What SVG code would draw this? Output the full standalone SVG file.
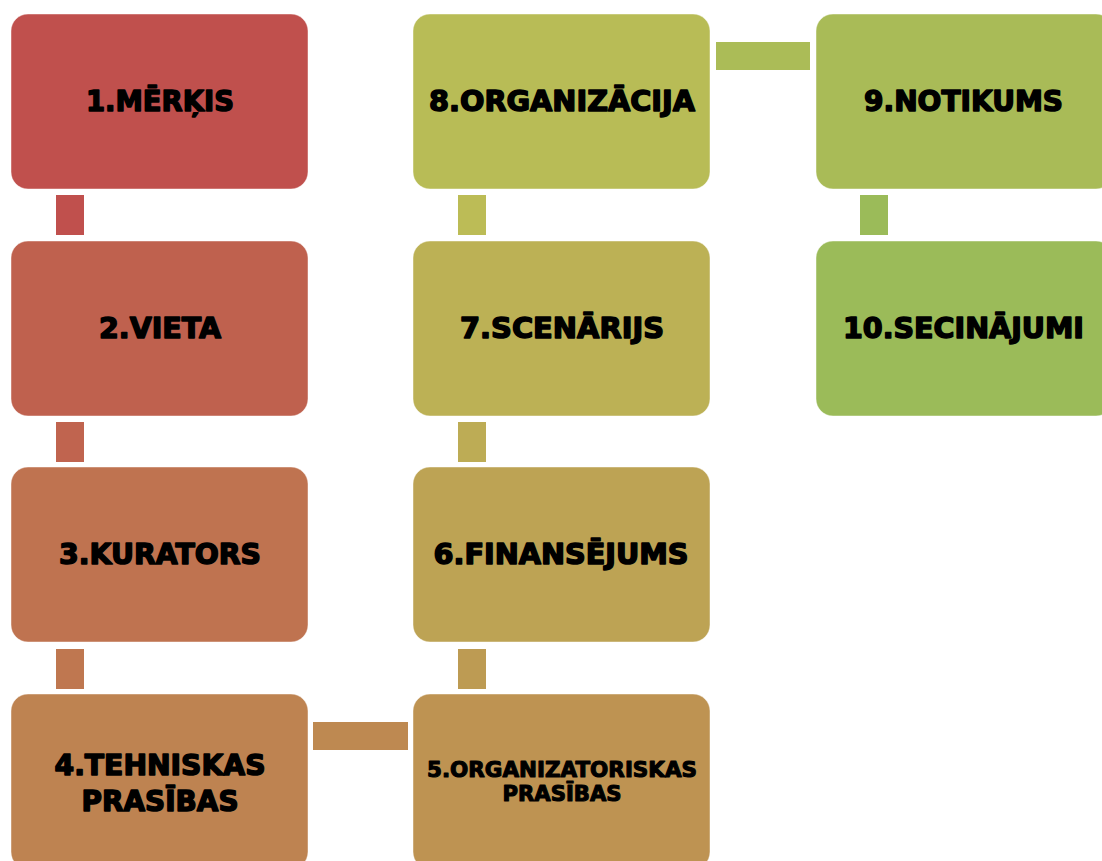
<svg xmlns="http://www.w3.org/2000/svg" width="1102" height="861" viewBox="0 0 1102 861">
<style>
.box{stroke:#ffffff;stroke-opacity:0.45;stroke-width:1}
.lbl{font-family:"DejaVu Sans","Liberation Sans",sans-serif;font-weight:bold;font-size:28px;fill:#000;stroke:#000;stroke-width:1.5;stroke-linejoin:round;text-anchor:middle}
.sm{font-size:21px;stroke-width:1.1}
</style>
<rect width="1102" height="861" fill="#ffffff"/>
<g id="connectors">
<rect x="56" y="195" width="28" height="40" fill="#C0504D"/>
<rect x="56" y="422" width="28" height="40" fill="#C0644F"/>
<rect x="56" y="649" width="28" height="40" fill="#BF7750"/>
<rect x="313" y="722" width="95" height="28" fill="#BE8951"/>
<rect x="458" y="649" width="28" height="40" fill="#BD9B53"/>
<rect x="458" y="422" width="28" height="40" fill="#BDAC55"/>
<rect x="458" y="195" width="28" height="40" fill="#BCBC56"/>
<rect x="716" y="42" width="94" height="28" fill="#ABBC57"/>
<rect x="860" y="195" width="28" height="40" fill="#9BBB59"/>
</g>
<g id="node1"><rect class="box" x="11" y="14" width="297" height="175" rx="17" fill="#C0504D"/><text class="lbl" x="160" y="111" textLength="148" lengthAdjust="spacingAndGlyphs">1.MĒRĶIS</text></g>
<g id="node2"><rect class="box" x="11" y="241" width="297" height="175" rx="17" fill="#BF614E"/><text class="lbl" x="160" y="338" textLength="122" lengthAdjust="spacingAndGlyphs">2.VIETA</text></g>
<g id="node3"><rect class="box" x="11" y="467" width="297" height="175" rx="17" fill="#BF7350"/><text class="lbl" x="160" y="564" textLength="202" lengthAdjust="spacingAndGlyphs">3.KURATORS</text></g>
<g id="node4"><rect class="box" x="11" y="694" width="297" height="175" rx="17" fill="#BE8351"/><text class="lbl" x="160" y="775" textLength="211" lengthAdjust="spacingAndGlyphs">4.TEHNISKAS</text><text class="lbl" x="160" y="811" textLength="157" lengthAdjust="spacingAndGlyphs">PRASĪBAS</text></g>
<g id="node5"><rect class="box" x="413" y="694" width="297" height="175" rx="17" fill="#BE9352"/><text class="lbl sm" x="562" y="777" textLength="270" lengthAdjust="spacingAndGlyphs">5.ORGANIZATORISKAS</text><text class="lbl sm" x="562" y="801" textLength="119" lengthAdjust="spacingAndGlyphs">PRASĪBAS</text></g>
<g id="node6"><rect class="box" x="413" y="467" width="297" height="175" rx="17" fill="#BDA354"/><text class="lbl" x="561" y="564" textLength="255" lengthAdjust="spacingAndGlyphs">6.FINANSĒJUMS</text></g>
<g id="node7"><rect class="box" x="413" y="241" width="297" height="175" rx="17" fill="#BCB155"/><text class="lbl" x="562" y="338" textLength="204" lengthAdjust="spacingAndGlyphs">7.SCENĀRIJS</text></g>
<g id="node8"><rect class="box" x="413" y="14" width="297" height="175" rx="17" fill="#B8BC56"/><text class="lbl" x="562" y="111" textLength="266" lengthAdjust="spacingAndGlyphs">8.ORGANIZĀCIJA</text></g>
<g id="node9"><rect class="box" x="816" y="14" width="297" height="175" rx="17" fill="#A9BB57"/><text class="lbl" x="963.5" y="111" textLength="199" lengthAdjust="spacingAndGlyphs">9.NOTIKUMS</text></g>
<g id="node10"><rect class="box" x="816" y="241" width="297" height="175" rx="17" fill="#9BBB59"/><text class="lbl" x="963.5" y="338" textLength="241" lengthAdjust="spacingAndGlyphs">10.SECINĀJUMI</text></g>
</svg>
